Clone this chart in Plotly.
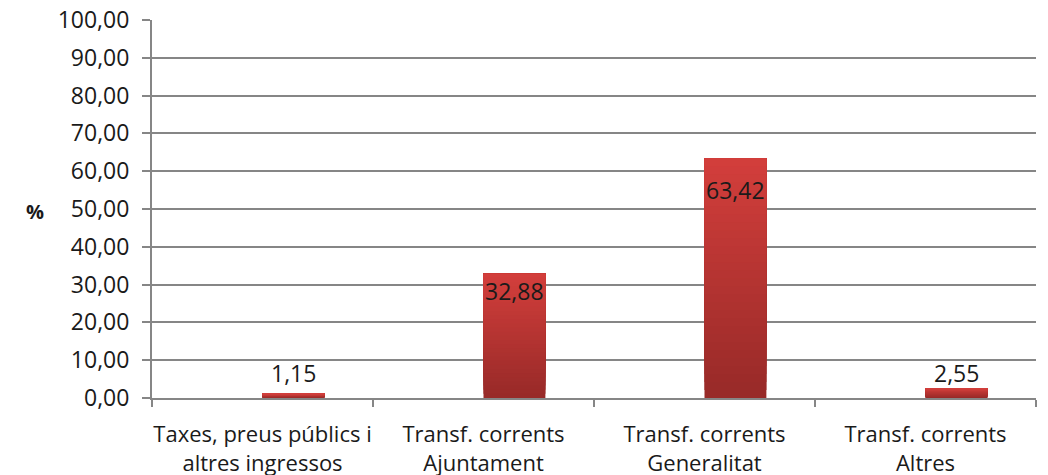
import plotly.graph_objects as go

categories = ["Taxes, preus públics i<br>altres ingressos", "Transf. corrents<br>Ajuntament",
              "Transf. corrents<br>Generalitat", "Transf. corrents<br>Altres"]
values = [1.15, 32.88, 63.42, 2.55]
y_ticks = [0, 10, 20, 30, 40, 50, 60, 70, 80, 90, 100]
# label vertical shift (px) relative to bar top, as placed in the reference
label_shift = [21, -17, -32, 15]

FONT = "Open Sans"
FS_Y = 23
FS_X = 22
TXT = "#1a1a1a"
N = 30
c_bot = (152, 42, 40)
c_top = (211, 63, 60)
BAR_W = 0.28

fig = go.Figure()
for k in range(N):
    t = (k + 0.5) / N
    col = tuple(int(c_bot[i] + (c_top[i] - c_bot[i]) * t) for i in range(3))
    fig.add_trace(go.Bar(
        x=categories,
        y=[v * (N - k) / N for v in values],
        base=[v * k / N for v in values],
        offset=0, width=BAR_W,
        marker=dict(color="rgb(%d,%d,%d)" % col, line=dict(width=0)),
        hoverinfo="skip", showlegend=False,
    ))

annotations = []
for i, (v, s) in enumerate(zip(values, label_shift)):
    annotations.append(dict(
        x=i + BAR_W / 2, y=v, xref="x", yref="y",
        text=("%.2f" % v).replace(".", ","),
        showarrow=False, xanchor="center", yanchor="middle", yshift=s,
        font=dict(family=FONT, size=FS_Y, color=TXT),
    ))

# page body has an 8px margin, so figure coords = screen coords - 8
OFF = 8
W, H = 1048, 475
L, T = 152 - OFF, 20 - OFF
R = W - (1036 - OFF)
B = H - (398 - OFF)
annotations.append(dict(text="<b>%</b>",
                        x=(35 - OFF - L) / (W - L - R), y=(398 - 211) / (398 - 20),
                        xref="paper", yref="paper", xanchor="center", yanchor="middle",
                        showarrow=False, font=dict(family=FONT, size=20, color=TXT)))

fig.update_layout(
    width=W, height=H,
    margin=dict(l=L, r=R, t=T, b=B),
    barmode="overlay",
    separators=",.",
    plot_bgcolor="white", paper_bgcolor="white",
    font=dict(family=FONT, size=FS_Y, color=TXT),
    xaxis=dict(
        type="category", range=[-0.5, 3.5], tickson="boundaries",
        ticks="outside", ticklen=7, tickcolor="#868686", tickwidth=2,
        showline=True, linecolor="#868686", linewidth=2, tickangle=0,
        showgrid=False, automargin=False, ticklabelstandoff=16,
        ticklabeloverflow="allow",
        tickfont=dict(family=FONT, size=FS_X, color=TXT),
    ),
    yaxis=dict(
        range=[0, 100], tickvals=y_ticks, tickformat=".2f",
        ticks="outside", ticklen=8, tickcolor="#868686", tickwidth=2,
        showline=True, linecolor="#868686", linewidth=2,
        showgrid=True, gridcolor="#868686", gridwidth=2,
        zeroline=False, automargin=False, ticklabelstandoff=8,
        ticklabeloverflow="allow",
        tickfont=dict(family=FONT, size=FS_Y, color=TXT),
    ),
    annotations=annotations,
)

fig.write_html("out.html")
